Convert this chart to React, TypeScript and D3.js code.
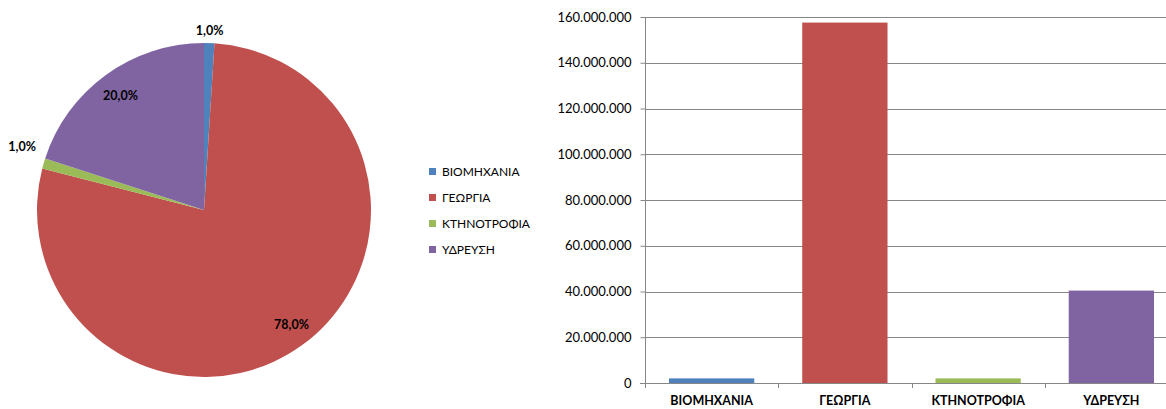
import React, { useRef, useEffect } from 'react';
import * as d3 from 'd3';

const categories = ['ΒΙΟΜΗΧΑΝΙΑ', 'ΓΕΩΡΓΙΑ', 'ΚΤΗΝΟΤΡΟΦΙΑ', 'ΥΔΡΕΥΣΗ'];
const values = [2020000, 157560000, 2020000, 40400000];
const colors = ['#4F81BD', '#C0504D', '#9BBB59', '#8064A2'];
const yTicks = [0, 20000000, 40000000, 60000000, 80000000, 100000000, 120000000, 140000000, 160000000];

const FONT = "Lato, 'Open Sans', 'DejaVu Sans', sans-serif";

const App = () => {
  const svgRef = useRef<SVGSVGElement>(null);
  const width = 1166;
  const height = 409;

  useEffect(() => {
    document.body.style.margin = '0';
    const svg = d3.select(svgRef.current);
    svg.selectAll('*').remove();

    // ---- pie
    const cx = 204, cy = 210, r = 167;
    const total = d3.sum(values);
    const pie = d3.pie<number>().sort(null)(values);
    const arc = d3.arc<d3.PieArcDatum<number>>().innerRadius(0).outerRadius(r);
    const pg = svg.append('g').attr('transform', `translate(${cx},${cy})`);
    pg.selectAll('path')
      .data(pie)
      .join('path')
      .attr('d', arc)
      .attr('fill', (_, i) => colors[i]);

    const fmtPct = (v: number) => (v / total * 100).toFixed(1).replace('.', ',') + '%';
    pg.selectAll('text')
      .data(pie)
      .join('text')
      .each(function (d) {
        const a = (d.startAngle + d.endAngle) / 2;
        const frac = (d.endAngle - d.startAngle) / (2 * Math.PI);
        const t = d3.select(this);
        if (frac > 0.05) {
          const dist = r * 0.85;
          t.attr('x', Math.sin(a) * dist + (Math.sin(a) > 0 ? 4 : 0)).attr('y', -Math.cos(a) * dist).attr('text-anchor', 'middle');
        } else {
          const dist = r + 10;
          let x = Math.sin(a) * dist;
          let y = -Math.cos(a) * dist;
          if (Math.sin(a) < -0.5) { y -= 14; x += 2; t.attr('text-anchor', 'end'); }
          else t.attr('text-anchor', 'middle');
          if (Math.cos(a) > 0.9) y -= 2;
          t.attr('x', x).attr('y', y);
        }
      })
      .attr('dy', '0.35em')
      .attr('font-family', FONT)
      .attr('font-size', 12.5)
      .attr('font-weight', 'bold')
      .attr('fill', '#000')
      .text(d => fmtPct(d.data));

    // ---- legend
    const lg = svg.append('g').attr('transform', 'translate(429,172)');
    const items = lg.selectAll('g')
      .data(categories)
      .join('g')
      .attr('transform', (_, i) => `translate(0,${i * 26})`);
    items.append('rect').attr('x', 0).attr('y', -4).attr('width', 7).attr('height', 7)
      .attr('fill', (_, i) => colors[i]);
    items.append('text').attr('x', 13).attr('y', 0).attr('dy', '0.35em')
      .attr('font-family', FONT).attr('font-size', 12).attr('fill', '#000')
      .text(d => d);

    // ---- bar chart
    const left = 645, right = 1178, top = 17, bottom = 383;
    const x = d3.scaleBand().domain(categories).range([left, right]).paddingInner(0.36).paddingOuter(0.18);
    const xb = d3.scaleBand().domain(categories).range([left, right]);
    const y = d3.scaleLinear().domain([0, 160000000]).range([bottom, top]);
    const fmt = (v: number) => d3.format(',')(v).replace(/,/g, '.');

    const bg = svg.append('g');
    bg.selectAll('line.grid')
      .data(yTicks.slice(1))
      .join('line')
      .attr('class', 'grid')
      .attr('x1', left).attr('x2', right)
      .attr('y1', d => Math.round(y(d)) + 0.5).attr('y2', d => Math.round(y(d)) + 0.5)
      .attr('stroke', '#878787').attr('stroke-width', 1);

    bg.selectAll('rect')
      .data(values)
      .join('rect')
      .attr('x', (_, i) => x(categories[i])!)
      .attr('width', x.bandwidth())
      .attr('y', d => y(d))
      .attr('height', d => bottom - y(d))
      .attr('fill', (_, i) => colors[i]);

    // y axis
    const yAxis = d3.axisLeft(y).tickValues(yTicks).tickFormat(d => fmt(+d)).tickSize(5).tickPadding(9);
    const ya = svg.append('g').attr('transform', `translate(${left + 0.5},0)`).call(yAxis);
    ya.select('.domain').attr('stroke', '#878787').attr('d', `M0,${top}V${bottom}`);
    ya.selectAll('.tick line').attr('stroke', '#878787');
    ya.selectAll('.tick text').attr('font-family', FONT).attr('font-size', 13).attr('fill', '#000');

    // x axis
    const xa = svg.append('g');
    xa.append('line').attr('x1', left - 5).attr('x2', right)
      .attr('y1', bottom + 0.5).attr('y2', bottom + 0.5).attr('stroke', '#878787');
    xa.selectAll('line.tk')
      .data(categories)
      .join('line')
      .attr('class', 'tk')
      .attr('x1', d => Math.round(xb(d)!) + 0.5).attr('x2', d => Math.round(xb(d)!) + 0.5)
      .attr('y1', bottom).attr('y2', bottom + 5)
      .attr('stroke', '#878787');
    xa.selectAll('text')
      .data(categories)
      .join('text')
      .attr('x', d => xb(d)! + xb.bandwidth() / 2)
      .attr('y', 405)
      .attr('text-anchor', 'middle')
      .attr('font-family', FONT).attr('font-size', 12.5).attr('font-weight', 'bold').attr('fill', '#000')
      .text(d => d);
  }, []);

  return (
    <svg ref={svgRef} width={width} height={height} style={{ display: 'block', background: '#fff' }} />
  );
};

export default App;
